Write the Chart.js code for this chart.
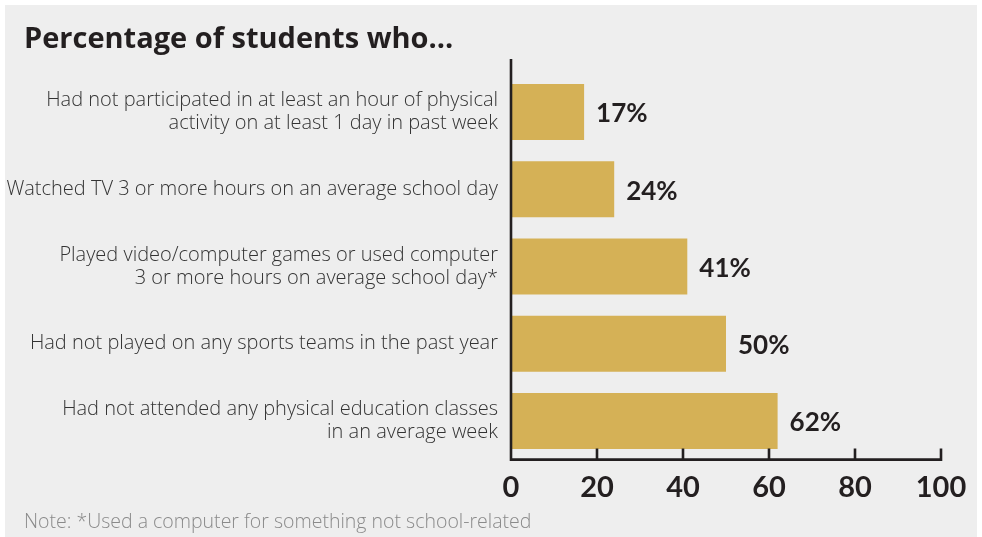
<!DOCTYPE html>
<html>
<head>
<meta charset="utf-8">
<script src="https://cdn.jsdelivr.net/npm/chart.js@4/dist/chart.umd.min.js"></script>
<style>
  html, body { margin: 0; padding: 0; background: #ffffff; }
  #wrap { width: 982px; height: 537px; position: relative; }
</style>
</head>
<body>
<div id="wrap"><canvas id="chart" width="982" height="537"></canvas></div>
<script>
// data
const categories = [
    ['Had not participated in at least an hour of physical', 'activity on at least 1 day in past week'],
    'Watched TV 3 or more hours on an average school day',
    ['Played video/computer games or used computer', '3 or more hours on average school day*'],
    'Had not played on any sports teams in the past year',
    ['Had not attended any physical education classes', 'in an average week']
];
const values = [17, 24, 41, 50, 62];
const xTicks = [0, 20, 40, 60, 80, 100];
const titleText = 'Percentage of students who...';
const noteText = 'Note: *Used a computer for something not school-related';

const FONT = 'Lato';
const TEXT_FONT = '"Open Sans"';
const INK = '#231f20';
const BAR = '#d5b156';

// light grey panel with a thin white frame
const panelBg = {
    id: 'panelBg',
    beforeDraw(chart) {
        const ctx = chart.ctx;
        ctx.save();
        ctx.fillStyle = '#ffffff';
        ctx.fillRect(0, 0, chart.width, chart.height);
        ctx.fillStyle = '#eeeeee';
        ctx.fillRect(5, 5, chart.width - 10, chart.height - 5);
        ctx.restore();
    }
};

// the long category labels run left of the title margin, so widen the label clip
const labelRoom = {
    id: 'labelRoom',
    afterLayout(chart) {
        chart.scales.y.left = 6;
    }
};

// axis lines with inward tick marks
const axisLines = {
    id: 'axisLines',
    afterDatasetsDraw(chart) {
        const ctx = chart.ctx;
        const area = chart.chartArea;
        const x = chart.scales.x;
        const x0 = x.getPixelForValue(0);
        const x1 = x.getPixelForValue(100);
        const yb = area.bottom;
        ctx.save();
        ctx.strokeStyle = INK;
        ctx.lineWidth = 2.6;
        ctx.beginPath();
        ctx.moveTo(x0, 59);
        ctx.lineTo(x0, yb + 1.3);
        ctx.moveTo(x0 - 1.3, yb);
        ctx.lineTo(x1 + 1.3, yb);
        xTicks.forEach(v => {
            const px = x.getPixelForValue(v);
            ctx.moveTo(px, yb);
            ctx.lineTo(px, yb - 11);
        });
        ctx.stroke();
        ctx.restore();
    }
};

// percentage labels after the bars
const valueLabels = {
    id: 'valueLabels',
    afterDatasetsDraw(chart) {
        const ctx = chart.ctx;
        const meta = chart.getDatasetMeta(0);
        ctx.save();
        ctx.font = 'bold 26px ' + FONT;
        ctx.fillStyle = INK;
        ctx.textAlign = 'left';
        ctx.textBaseline = 'middle';
        meta.data.forEach((bar, i) => {
            ctx.fillText(values[i] + '%', bar.x + 12, bar.y + 2);
        });
        ctx.restore();
    }
};

new Chart(document.getElementById('chart'), {
    type: 'bar',
    data: {
        labels: categories,
        datasets: [{
            data: values,
            backgroundColor: BAR,
            borderWidth: 0,
            barPercentage: 0.725,
            categoryPercentage: 1
        }]
    },
    options: {
        indexAxis: 'y',
        responsive: false,
        animation: false,
        devicePixelRatio: 1,
        layout: { padding: { top: 5, left: 24, right: 41, bottom: 0 } },
        plugins: {
            legend: { display: false },
            tooltip: { enabled: false },
            title: {
                display: true,
                text: titleText,
                align: 'start',
                color: INK,
                font: { family: TEXT_FONT, size: 29, weight: 'bold', lineHeight: 1.2 },
                padding: { top: 17, bottom: 16.6 }
            },
            subtitle: {
                display: true,
                text: noteText,
                position: 'bottom',
                align: 'start',
                color: '#8a8a8a',
                font: { family: TEXT_FONT, size: 19.5, weight: 300, lineHeight: 1.2 },
                padding: { top: 0, bottom: 2.5 }
            }
        },
        scales: {
            x: {
                type: 'linear',
                min: 0,
                max: 100,
                afterBuildTicks(scale) {
                    scale.ticks = xTicks.map(v => ({ value: v }));
                },
                afterFit(scale) { scale.height = 51.5; },
                grid: { display: false, drawTicks: false },
                border: { display: false },
                ticks: {
                    color: INK,
                    padding: 11,
                    maxRotation: 0,
                    font: { family: FONT, size: 29, weight: 'bold' }
                }
            },
            y: {
                afterFit(scale) { scale.width = 511 - 24; },
                grid: { display: false, drawTicks: false },
                border: { display: false },
                ticks: {
                    color: '#333333',
                    padding: 13,
                    font: { family: TEXT_FONT, size: 20, weight: 300, lineHeight: 1.15 }
                }
            }
        }
    },
    plugins: [panelBg, labelRoom, axisLines, valueLabels]
});
</script>
</body>
</html>
